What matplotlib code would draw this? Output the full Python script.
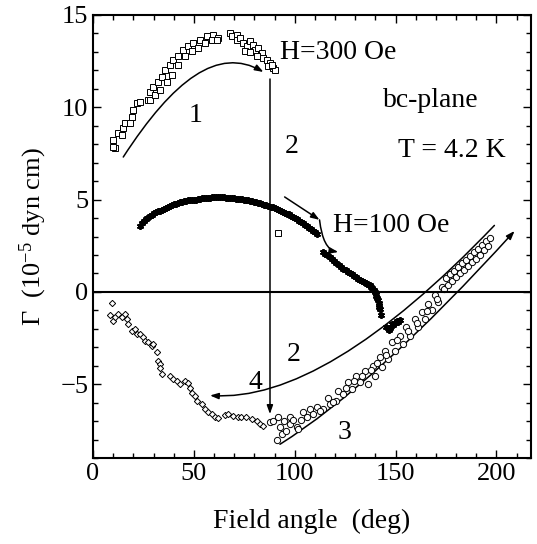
import numpy as np
import matplotlib
matplotlib.use('Agg')
import matplotlib.pyplot as plt
from matplotlib.path import Path
from matplotlib.patches import FancyArrowPatch
from matplotlib.ticker import MultipleLocator

plt.rcParams['font.family'] = ['Liberation Serif', 'DejaVu Serif']
plt.rcParams['mathtext.fontset'] = 'custom'
plt.rcParams['mathtext.rm'] = 'Liberation Serif'
plt.rcParams['mathtext.it'] = 'Liberation Serif:italic'

# H = 300 Oe, open squares
sq_x = [10.1, 10.9, 10.1, 12.5, 14.2, 15.0, 15.9, 18.3, 19.2, 20.0, 21.7, 23.3, 27.4, 28.2,
        29.9, 32.4, 34.0, 35.7, 38.2, 39.8, 42.3, 44.7, 47.2, 49.7, 53.0, 56.3, 59.6, 62.1,
        28.2, 30.7, 33.2, 36.5, 39.0, 42.3, 45.6, 48.9, 52.2, 55.5, 58.8, 61.3,
        67.9, 68.7, 71.2, 71.2, 72.8, 74.5, 76.2, 77.8, 79.4, 80.3, 81.9, 83.6, 84.4, 86.1,
        87.7, 89.3, 90.2, 75.3, 78.0, 81.1, 86.9, 88.5, 91.5]
sq_y = [8.20, 7.77, 7.86, 8.58, 8.49, 8.85, 9.13, 9.13, 9.48, 9.85, 10.21, 10.30, 10.39, 10.84,
        11.11, 11.38, 11.65, 12.02, 12.29, 12.56, 12.74, 13.10, 13.28, 13.47, 13.65, 13.83, 13.92, 13.74,
        10.39, 10.66, 10.93, 11.38, 11.75, 12.29, 12.74, 13.01, 13.19, 13.47, 13.65, 13.65,
        14.01, 13.86, 13.92, 13.65, 13.74, 13.47, 13.28, 13.55, 13.37, 13.10, 13.19, 12.92, 12.65, 12.56,
        12.38, 12.11, 12.02, 13.01, 13.00, 12.74, 12.20, 12.29, 3.19]

# H = 100 Oe, asterisks
st_x = [23.5, 24.5, 25.5, 26.3, 27.0, 28.5, 29.3, 30.0, 31.0, 32.0, 33.0, 34.0, 35.0, 36.0,
        37.0, 38.0, 39.0, 40.0, 41.0, 42.0, 43.0, 44.0, 45.0, 46.0, 47.0, 48.0, 49.0, 50.0,
        51.0, 52.0, 53.0, 54.0, 55.0, 56.0, 57.0, 58.0, 59.0, 60.0, 61.0, 62.0, 63.0, 64.0,
        65.0, 66.0, 67.0, 68.0, 69.0, 70.0, 71.0, 72.0, 73.0, 74.0, 75.0, 76.0, 77.0, 78.0,
        79.0, 80.0, 81.0, 82.0, 83.0, 84.0, 85.0, 86.0, 87.0, 88.0, 89.0, 90.0, 91.0, 92.0,
        93.0, 94.0, 95.0, 96.0, 97.0, 98.0, 99.0, 100.0, 101.0, 102.0, 103.0, 104.0, 105.0,
        106.0, 107.0, 108.0, 109.0, 110.0, 110.8,
        114.0, 115.0, 116.0, 117.4, 118.5, 119.5, 120.5, 122.0, 123.0, 124.0, 125.3, 126.5,
        127.5, 128.5, 129.5, 130.6, 131.5, 132.5, 133.5, 134.5, 135.3, 136.0, 136.7, 137.3,
        138.0, 138.5, 139.1, 139.7, 140.1, 140.5, 141.0, 141.4, 141.6, 141.8, 142.0, 142.2, 143.0,
        145.5, 146.5, 147.2, 148.0, 148.8, 149.5, 150.5, 151.3, 152.0]
st_y = [3.55, 3.75, 3.85, 3.92, 4.00, 4.10, 4.18, 4.25, 4.33, 4.36, 4.40, 4.45, 4.50, 4.55,
        4.60, 4.65, 4.70, 4.74, 4.78, 4.82, 4.85, 4.87, 4.90, 4.93, 4.96, 4.98, 5.00, 5.00,
        5.00, 5.03, 5.05, 5.08, 5.10, 5.10, 5.10, 5.11, 5.12, 5.13, 5.15, 5.15, 5.14, 5.13,
        5.12, 5.11, 5.10, 5.09, 5.08, 5.06, 5.05, 5.03, 5.02, 5.01, 5.00, 4.97, 4.95, 4.92,
        4.90, 4.88, 4.85, 4.83, 4.80, 4.76, 4.72, 4.68, 4.65, 4.62, 4.58, 4.53, 4.48, 4.43,
        4.38, 4.33, 4.28, 4.24, 4.20, 4.12, 4.05, 3.98, 3.92, 3.86, 3.80, 3.71, 3.62,
        3.55, 3.48, 3.40, 3.32, 3.24, 3.16,
        2.16, 2.08, 2.00, 1.89, 1.80, 1.70, 1.58, 1.45, 1.35, 1.26, 1.18, 1.10,
        1.02, 0.95, 0.88, 0.80, 0.72, 0.65, 0.58, 0.52, 0.47, 0.42, 0.38, 0.35,
        0.28, 0.20, 0.10, -0.01, -0.10, -0.20, -0.33, -0.46, -0.58, -0.70, -0.80, -0.91, -1.27,
        -1.91, -2.05, -1.95, -1.75, -1.80, -1.70, -1.58, -1.60, -1.52]

# diamonds
di_x = [9.3, 8.4, 10.1, 10.9, 12.5, 14.2, 15.9, 16.7, 17.5, 19.2, 20.8, 21.7, 23.3, 24.9,
        25.8, 27.4, 29.1, 29.9, 31.6, 32.4, 33.2, 33.2, 34.0, 38.2, 39.8, 41.5, 43.1, 45.6,
        47.2, 48.1, 48.9, 50.5, 51.4, 53.9, 55.5, 57.2, 58.8, 60.4, 61.9, 65.4, 67.0, 69.5,
        71.9, 73.6, 76.0, 78.6, 81.1, 82.7, 84.1]
di_y = [-0.60, -1.27, -1.55, -1.37, -1.18, -1.37, -1.18, -1.46, -1.73, -2.09, -2.00, -2.27, -2.27, -2.45,
        -2.64, -2.73, -2.90, -2.82, -3.27, -3.73, -3.90, -4.10, -4.46, -4.53, -4.71, -4.82, -4.98, -4.82,
        -4.90, -5.17, -5.44, -5.62, -5.90, -6.07, -6.34, -6.52, -6.61, -6.79, -6.80, -6.65, -6.61, -6.70,
        -6.75, -6.79, -6.79, -6.88, -6.97, -7.12, -7.25]

# circles
ci_x = [87.7, 89.3, 91.8, 92.7, 91.0, 93.5, 95.8, 97.6, 97.6, 100.9, 101.8, 104.2, 106.0, 107.5,
        109.1, 110.8, 114.1, 116.6, 117.4, 120.7, 121.6, 124.0, 126.5, 128.2, 130.6, 132.3, 134.8,
        136.5, 138.9, 139.7, 142.2, 143.1, 144.7, 146.4, 148.0, 149.7, 152.1, 153.8, 155.4, 157.1,
        159.6, 161.3, 162.9, 164.6, 166.2, 167.9, 169.5, 171.2, 173.0,
        94.5, 99.0, 103.0, 112.5, 119.0, 125.2, 129.5, 133.5, 137.7, 141.0, 145.5, 150.8, 156.2,
        160.5, 165.4, 170.4, 174.0, 175.0, 176.0, 177.0, 178.0, 179.0, 180.0, 181.0, 182.0,
        183.0, 184.0, 185.0, 186.0, 187.0, 188.0, 189.0, 190.0, 191.0, 192.0, 193.0, 194.0,
        195.0, 196.0, 197.0]
ci_y = [-7.06, -6.97, -6.79, -7.33, -8.00, -7.70, -7.51, -7.15, -6.79, -7.33, -7.42, -6.52, -6.79, -6.34,
        -6.61, -6.25, -6.34, -5.71, -6.07, -5.89, -5.35, -5.53, -4.89, -5.26, -4.53, -4.89, -4.26,
        -4.98, -3.99, -4.53, -3.54, -4.08, -3.17, -3.63, -2.72, -3.17, -2.36, -2.81, -1.90, -2.36,
        -1.45, -1.90, -1.09, -1.45, -0.64, -1.00, -0.19, -0.55, 0.26,
        -7.00, -6.95, -6.90, -6.45, -5.95, -5.20, -4.80, -4.55, -4.20, -3.85, -3.40, -2.60, -2.10,
        -1.70, -1.05, -0.40, 0.15, 0.75, 0.40, 0.95, 0.60, 1.15, 0.80, 1.35, 1.00,
        1.55, 1.20, 1.75, 1.40, 1.95, 1.60, 2.15, 1.80, 2.35, 2.00, 2.55, 2.25,
        2.75, 2.50, 2.90]

fig = plt.figure(figsize=(5.37, 5.44), dpi=100)
ax = fig.add_axes([0.1732, 0.1575, 0.8151, 0.8155])

ax.plot(sq_x, sq_y, ls='none', marker='s', ms=4, mfc='white', mec='black', mew=0.7)
ax.plot(st_x, st_y, ls='none', marker=(6, 2, 0), ms=5, mec='black', mew=1.3)
ax.plot(di_x, di_y, ls='none', marker='D', ms=3.2, mfc='white', mec='black', mew=0.7)
ax.plot(ci_x, ci_y, ls='none', marker='o', ms=4.5, mfc='white', mec='black', mew=0.7)

ax.axhline(0, color='black', lw=1.5)

def curve(verts, codes, head=True):
    style = '-|>,head_length=5,head_width=1.8' if head else '-'
    p = FancyArrowPatch(path=Path(verts, codes), arrowstyle=style, color='black',
                        lw=1.1, mutation_scale=1)
    ax.add_patch(p)

C4 = [Path.MOVETO, Path.CURVE4, Path.CURVE4, Path.CURVE4]
C3 = [Path.MOVETO, Path.CURVE3, Path.CURVE3]
L2 = [Path.MOVETO, Path.LINETO]

curve([(15, 7.3), (40, 11.5), (62, 13.3), (84.5, 11.9)], C4)
curve([(87.7, 11.5), (87.7, -6.6)], L2)
curve([(95, 5.14), (112.3, 3.9)], L2)
curve([(112.3, 3.9), (114, 2.3), (121.6, 2.16)], C3)
curve([(199, 3.6), (115, -6.0), (58, -5.6)], C3)
curve([(92.7, -8.24), (140, -5.0), (209, 3.3)], C3)

fs = 20
ax.text(92.7, 12.97, 'H=300 Oe', fontsize=fs, va='center', ha='left')
ax.text(167.4, 10.0, 'bc-plane', fontsize=fs, ha='center', va='baseline')
ax.text(178.1, 7.31, 'T = 4.2 K', fontsize=fs, ha='center', va='baseline')
ax.text(119.1, 3.24, 'H=100 Oe', fontsize=fs, ha='left', va='baseline')
ax.text(51, 9.21, '1', fontsize=fs, ha='center', va='baseline')
ax.text(98.5, 7.5, '2', fontsize=fs, ha='center', va='baseline')
ax.text(99.3, -3.72, '2', fontsize=fs, ha='center', va='baseline')
ax.text(80.3, -5.25, '4', fontsize=fs, ha='center', va='baseline')
ax.text(124.9, -7.97, '3', fontsize=fs, ha='center', va='baseline')

ax.set_xlim(0, 217)
ax.set_ylim(-9, 15)
ax.xaxis.set_major_locator(MultipleLocator(50))
ax.xaxis.set_minor_locator(MultipleLocator(10))
ax.yaxis.set_major_locator(MultipleLocator(5))
ax.yaxis.set_minor_locator(MultipleLocator(1))
ax.tick_params(which='both', direction='in', top=True, right=True, labelsize=19, width=1.0)
ax.tick_params(which='major', length=6)
ax.tick_params(which='minor', length=3.5)
ax.set_yticks([-5, 0, 5, 10, 15])
for s in ax.spines.values():
    s.set_linewidth(1.5)

ax.set_xlabel('Field angle  (deg)', fontsize=20, labelpad=17)
ax.set_ylabel('\u0393  (10$^{\\mathrm{-5}}$ dyn cm)', fontsize=19, labelpad=8)

fig.savefig('out.png', dpi=100)
